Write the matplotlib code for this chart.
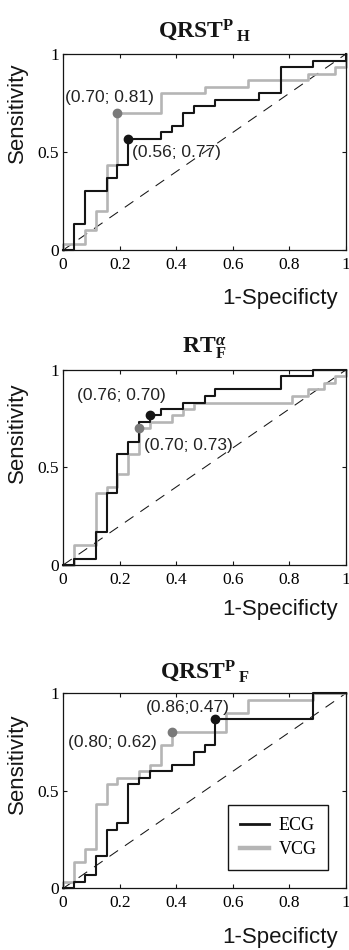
import matplotlib
matplotlib.use("Agg")
import matplotlib.pyplot as plt
from matplotlib.lines import Line2D

plt.rcParams['mathtext.fontset'] = 'custom'
plt.rcParams['mathtext.rm'] = 'Liberation Serif'
plt.rcParams['mathtext.bf'] = 'Liberation Serif:bold'
plt.rcParams['mathtext.it'] = 'Liberation Serif:italic:bold'

# ---------------- data ----------------
titles = [r'$\mathbf{QRST}^{\mathbf{P}}\,{}_{\mathbf{H}}$',
          r'$\mathbf{RT}^{\alpha}_{\mathbf{F}}$',
          r'$\mathbf{QRST}^{\mathbf{P}}\,{}_{\mathbf{F}}$']

# Panel 1 (QRST^P_H)
p1_ecg_fpr = [0, 0.038, 0.077, 0.154, 0.192, 0.231, 0.346, 0.385, 0.423, 0.462, 0.538, 0.692, 0.769, 0.885, 1.0, 1.0]
p1_ecg_tpr = [0, 0.133, 0.300, 0.367, 0.433, 0.567, 0.600, 0.633, 0.700, 0.733, 0.767, 0.800, 0.933, 0.967, 0.967, 1.0]
p1_vcg_fpr = [0, 0, 0.077, 0.115, 0.154, 0.192, 0.346, 0.500, 0.654, 0.865, 0.962, 1.0, 1.0]
p1_vcg_tpr = [0, 0.033, 0.100, 0.200, 0.433, 0.700, 0.800, 0.833, 0.867, 0.900, 0.933, 0.933, 1.0]

# Panel 2 (RT^alpha_F)
p2_ecg_fpr = [0, 0.038, 0.115, 0.154, 0.192, 0.231, 0.269, 0.308, 0.346, 0.423, 0.500, 0.538, 0.769, 0.885, 1.0]
p2_ecg_tpr = [0, 0.033, 0.167, 0.367, 0.567, 0.633, 0.733, 0.767, 0.800, 0.833, 0.867, 0.900, 0.967, 1.0, 1.0]
p2_vcg_fpr = [0, 0.038, 0.115, 0.154, 0.192, 0.231, 0.269, 0.308, 0.385, 0.423, 0.462, 0.808, 0.865, 0.923, 0.962, 1.0, 1.0]
p2_vcg_tpr = [0, 0.100, 0.367, 0.400, 0.467, 0.567, 0.700, 0.733, 0.767, 0.800, 0.833, 0.867, 0.900, 0.933, 0.967, 0.967, 1.0]

# Panel 3 (QRST^P_F)
p3_ecg_fpr = [0, 0.038, 0.077, 0.115, 0.154, 0.192, 0.231, 0.269, 0.308, 0.385, 0.462, 0.500, 0.538, 0.885, 1.0]
p3_ecg_tpr = [0, 0.033, 0.067, 0.167, 0.300, 0.333, 0.533, 0.567, 0.600, 0.633, 0.700, 0.733, 0.867, 1.0, 1.0]
p3_vcg_fpr = [0, 0, 0.038, 0.077, 0.115, 0.154, 0.192, 0.269, 0.308, 0.346, 0.385, 0.577, 0.654, 0.885, 1.0]
p3_vcg_tpr = [0, 0.033, 0.133, 0.200, 0.433, 0.533, 0.567, 0.600, 0.633, 0.733, 0.800, 0.900, 0.967, 1.0, 1.0]

ecg_fpr = [p1_ecg_fpr, p2_ecg_fpr, p3_ecg_fpr]
ecg_tpr = [p1_ecg_tpr, p2_ecg_tpr, p3_ecg_tpr]
vcg_fpr = [p1_vcg_fpr, p2_vcg_fpr, p3_vcg_fpr]
vcg_tpr = [p1_vcg_tpr, p2_vcg_tpr, p3_vcg_tpr]

# optimal points (1-specificity, sensitivity)
ecg_opt = [(0.231, 0.567), (0.308, 0.767), (0.538, 0.867)]
vcg_opt = [(0.192, 0.700), (0.269, 0.700), (0.385, 0.800)]

# annotation labels: (text, x, y)
ecg_labels = [("(0.56; 0.77)", 0.243, 0.50), ("(0.76; 0.70)", 0.048, 0.87), ("(0.86;0.47)", 0.293, 0.925)]
vcg_labels = [("(0.70; 0.81)", 0.006, 0.78), ("(0.70; 0.73)", 0.286, 0.61), ("(0.80; 0.62)", 0.017, 0.75)]

xticks = [0, 0.2, 0.4, 0.6, 0.8, 1]
xticklabels = ["0", "0.2", "0.4", "0.6", "0.8", "1"]
yticks = [0, 0.5, 1]
yticklabels = ["0", "0.5", "1"]

# ---------------- layout ----------------
fig = plt.figure(figsize=(3.49, 9.5), dpi=100)
positions = [[0.181, 0.7368, 0.810, 0.2063],
             [0.181, 0.4053, 0.810, 0.2053],
             [0.181, 0.0649, 0.810, 0.2053]]
title_y = [1.087, 1.087, 1.075]
xlab_y = [-0.245, -0.226, -0.252]
ylab_y = [0.70, 0.68, 0.64]

BLACK = '#151515'
GRAY = '#b5b5b5'
GRAY_M = '#7a7a7a'

serif = 'Liberation Serif'
sans = 'Liberation Sans'

for i in range(3):
    ax = fig.add_axes(positions[i])
    ax.plot([0, 1], [0, 1], color=BLACK, lw=0.75, dashes=(10, 8), zorder=1)
    ax.plot(vcg_fpr[i], vcg_tpr[i], drawstyle='steps-post', color=GRAY, lw=1.9,
            zorder=2, clip_on=False, label='VCG')
    ax.plot(ecg_fpr[i], ecg_tpr[i], drawstyle='steps-post', color=BLACK, lw=1.5,
            zorder=3, clip_on=False, label='ECG')
    ax.plot([vcg_opt[i][0]], [vcg_opt[i][1]], 'o', color=GRAY_M, ms=6, zorder=4)
    ax.plot([ecg_opt[i][0]], [ecg_opt[i][1]], 'o', color=BLACK, ms=6, zorder=4)

    for txt, x, y in (ecg_labels[i], vcg_labels[i]):
        ax.text(x, y, txt, fontsize=12.5, family=sans, color='#222222',
                ha='left', va='center', zorder=5)

    ax.set_xlim(0, 1)
    ax.set_ylim(0, 1)
    ax.set_xticks(xticks)
    ax.set_xticklabels(xticklabels, family=serif, fontsize=12.5)
    ax.set_yticks(yticks)
    ax.set_yticklabels(yticklabels, family=serif, fontsize=12.5)
    ax.tick_params(direction='in', length=3, width=0.8, top=True, right=True,
                   color=BLACK)
    ax.tick_params(axis='x', pad=5)
    ax.tick_params(axis='y', pad=3)
    for s in ax.spines.values():
        s.set_linewidth(0.9)
        s.set_color(BLACK)

    ax.text(0.5, title_y[i], titles[i], transform=ax.transAxes, ha='center',
            va='baseline', fontsize=17, color=BLACK)
    ax.text(0.97, xlab_y[i], '1-Specificty', transform=ax.transAxes, ha='right',
            va='center', fontsize=16, family=sans, color=BLACK)
    ax.text(-0.16, ylab_y[i], 'Sensitivity', transform=ax.transAxes, ha='center',
            va='center', rotation=90, fontsize=16, family=sans, color=BLACK)

    if i == 2:
        handles = [Line2D([], [], color=BLACK, lw=2.0),
                   Line2D([], [], color=GRAY, lw=3.2)]
        leg = ax.legend(handles, ['ECG', 'VCG'], loc='lower right',
                        bbox_to_anchor=(0.938, 0.094), borderaxespad=0,
                        prop={'family': serif, 'size': 13}, fancybox=False,
                        edgecolor=BLACK, framealpha=1, handlelength=1.6,
                        handletextpad=0.55, borderpad=0.65, labelspacing=0.4)
        leg.get_frame().set_linewidth(1.0)

fig.savefig('out.png', dpi=100)
